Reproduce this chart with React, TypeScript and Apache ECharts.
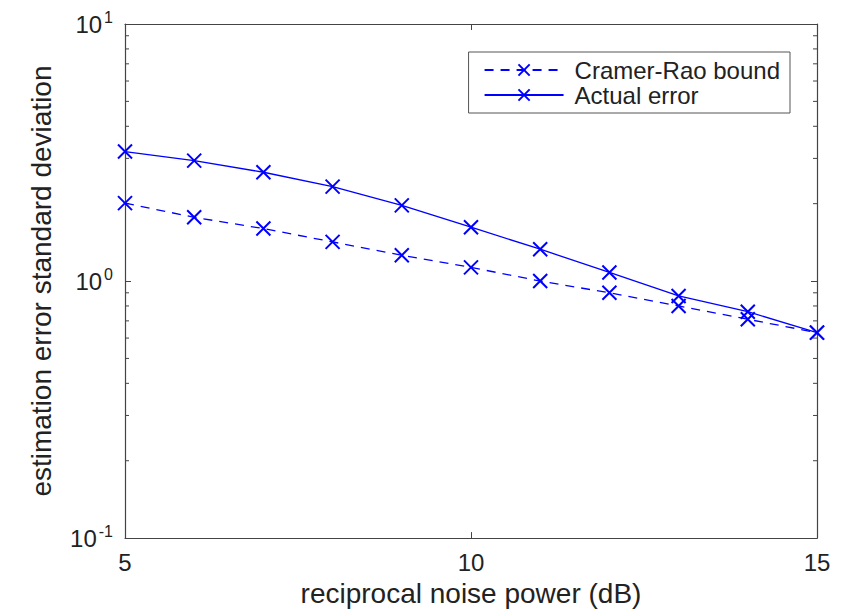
import React, { useEffect, useRef } from "react";
import * as echarts from "echarts";

const noisePower = [5, 6, 7, 8, 9, 10, 11, 12, 13, 14, 15];
const cramerRao = [2.01, 1.77, 1.6, 1.42, 1.26, 1.13, 1.0, 0.9, 0.8, 0.71, 0.63];
const actualError = [3.19, 2.94, 2.65, 2.33, 1.97, 1.62, 1.33, 1.08, 0.875, 0.76, 0.63];
const minorTickValues = [0.2, 0.3, 0.4, 0.5, 0.6, 0.7, 0.8, 0.9, 2, 3, 4, 5, 6, 7, 8, 9];

const FONT = "'Liberation Sans', Arial, Helvetica, sans-serif";
const BLUE = "#0000ff";
const AXIS = "#444444";
const TXT = "#222222";
const XSYM = "path://M0,0L10,10M10,0L0,10";

export default function App() {
  const ref = useRef<HTMLDivElement>(null);
  useEffect(() => {
    if (!ref.current) return;
    const chart = echarts.init(ref.current, null, { renderer: "svg" });
    const pow = (v: number) => Math.round(Math.log10(v));
    const yLabel = (v: number) => `{b|10}{s|${pow(v)}}`;
    const rich = {
      b: { fontSize: 24, fontFamily: FONT, color: TXT },
      s: { fontSize: 16, fontFamily: FONT, color: TXT, padding: [0, 0, 14, 2] },
    };
    chart.setOption({
      animation: false,
      backgroundColor: "#ffffff",
      textStyle: { fontFamily: FONT },
      grid: { left: 125, right: 28, top: 24, bottom: 72, containLabel: false },
      legend: {
        orient: "vertical",
        right: 55,
        top: 52,
        backgroundColor: "#fff",
        borderColor: "#555",
        borderWidth: 1,
        borderRadius: 0,
        padding: [6, 10, 6, 15],
        itemGap: 1,
        itemWidth: 79,
        itemHeight: 14,
        textStyle: { fontSize: 24, fontFamily: FONT, color: TXT, padding: [0, 0, 0, 6] },
        data: ["Cramer-Rao bound", "Actual error"],
      },
      xAxis: [
        {
          type: "value",
          min: 5,
          max: 15,
          interval: 5,
          name: "reciprocal noise power (dB)",
          nameLocation: "middle",
          nameGap: 39,
          nameTextStyle: { fontSize: 28, fontFamily: FONT, color: TXT },
          axisLine: { lineStyle: { color: AXIS, width: 1.2 } },
          axisTick: { inside: true, length: 6, lineStyle: { color: AXIS } },
          axisLabel: { fontSize: 24, fontFamily: FONT, color: TXT, margin: 12 },
          splitLine: { show: false },
        },
        {
          type: "value",
          position: "top",
          min: 5,
          max: 15,
          interval: 5,
          axisLine: { lineStyle: { color: AXIS, width: 1.2 } },
          axisTick: { inside: true, length: 6, lineStyle: { color: AXIS } },
          axisLabel: { show: false },
          splitLine: { show: false },
        },
      ],
      yAxis: [
        {
          type: "log",
          logBase: 10,
          min: 0.1,
          max: 10,
          name: "estimation error standard deviation",
          nameLocation: "middle",
          nameGap: 70,
          nameTextStyle: { fontSize: 28, fontFamily: FONT, color: TXT },
          axisLine: { lineStyle: { color: AXIS, width: 1.2 } },
          axisTick: { inside: true, length: 6, lineStyle: { color: AXIS } },
          axisLabel: { formatter: yLabel, rich, margin: 12 },
          splitLine: { show: false },
        },
        {
          type: "log",
          logBase: 10,
          min: 0.1,
          max: 10,
          position: "right",
          axisLine: { show: true, lineStyle: { color: AXIS, width: 1.2 } },
          axisTick: { inside: true, length: 6, lineStyle: { color: AXIS } },
          axisLabel: { show: false },
          splitLine: { show: false },
        },
      ],
      series: [
        {
          name: "Cramer-Rao bound",
          type: "line",
          data: noisePower.map((x, i) => [x, cramerRao[i]]),
          symbol: XSYM,
          symbolSize: 14,
          lineStyle: { color: BLUE, width: 1.3, type: [9, 7] },
          itemStyle: { color: "none", borderColor: BLUE, borderWidth: 2 },
          z: 3,
        },
        {
          name: "Actual error",
          type: "line",
          data: noisePower.map((x, i) => [x, actualError[i]]),
          symbol: XSYM,
          symbolSize: 14,
          lineStyle: { color: BLUE, width: 1.3 },
          itemStyle: { color: "none", borderColor: BLUE, borderWidth: 2 },
          z: 3,
        },
        {
          type: "custom",
          silent: true,
          data: minorTickValues.map((v) => [5, v]),
          renderItem: (params: any, api: any) => {
            const v = api.value(1);
            const pL = api.coord([5, v]);
            const pR = api.coord([15, v]);
            const style = { stroke: AXIS, lineWidth: 1 };
            return {
              type: "group",
              children: [
                { type: "line", shape: { x1: pL[0], y1: pL[1], x2: pL[0] + 4, y2: pL[1] }, style },
                { type: "line", shape: { x1: pR[0] - 4, y1: pR[1], x2: pR[0], y2: pR[1] }, style },
              ],
            };
          },
          z: 1,
        },
      ],
    });
    return () => chart.dispose();
  }, []);
  return <div ref={ref} style={{ width: 845, height: 612, marginLeft: -8, marginTop: -8 }} />;
}
